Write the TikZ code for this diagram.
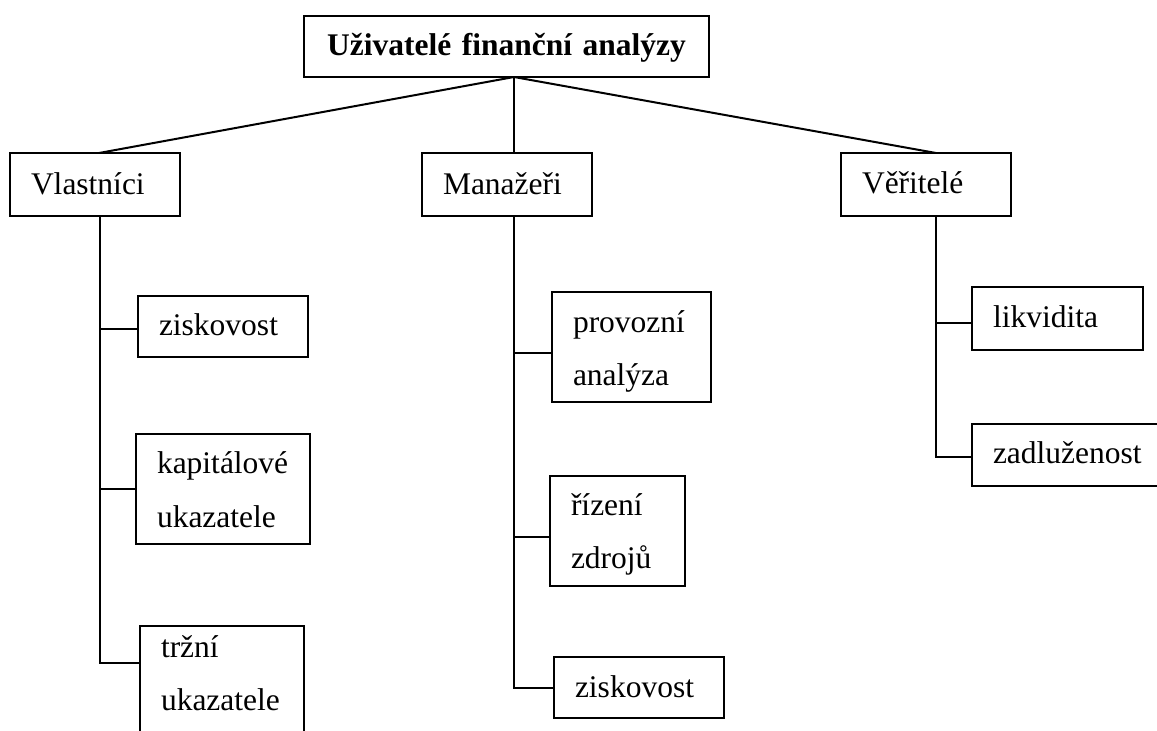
\documentclass[tikz,border=0pt]{standalone}
\usepackage{fontspec}
\setmainfont{Liberation Serif}
\hyphenpenalty=10000
\exhyphenpenalty=10000
\begin{document}
\begin{tikzpicture}[x=1pt,y=-1pt,
  box/.style={draw, line width=1.3pt, anchor=north west, align=left, inner xsep=21pt, inner ysep=0pt, outer sep=0pt,
    font=\fontsize{31.5}{53}\selectfont},
  conn/.style={line width=2pt}]
\useasboundingbox (0,0) rectangle (1157,731);
\clip (0,0) rectangle (1157,731);
% top
\node[box, align=center, font=\fontsize{31.5}{53}\selectfont\bfseries, text width=363pt, text height=39pt, text depth=22pt] (title) at (304,16) {Uživatelé finanční analýzy};
% level 1
\node[box, text width=128pt, text height=41pt, text depth=22pt] (vl) at (10,153) {Vlastníci};
\node[box, text width=128pt, text height=41pt, text depth=22pt] (ma) at (422,153) {Manažeři};
\node[box, text width=128pt, text height=40pt, text depth=23pt] (ve) at (841,153) {Věřitelé};
% Vlastnici children
\node[box, text width=128pt, text height=39pt, text depth=22pt] (z1) at (138,296) {ziskovost};
\node[box, font=\fontsize{31.5}{54}\selectfont, text width=132pt, text height=39pt, text depth=71pt] (kap) at (136,434) {kapitálové\\ukazatele};
\node[box, text width=122pt, text height=31pt, text depth=110pt] (trz) at (140,626) {tržní\\ukazatele};
% Manazeri children
\node[box, text width=117pt, text height=40pt, text depth=70pt] (prov) at (552,292) {provozní\\analýza};
\node[box, text width=93pt, text height=39pt, text depth=71pt] (riz) at (550,476) {řízení\\zdrojů};
\node[box, text width=128pt, text height=40pt, text depth=21pt] (z2) at (554,657) {ziskovost};
% Veritele children
\node[box, text width=129pt, text height=40pt, text depth=23pt] (likv) at (972,287) {likvidita};
\node[box, text width=160pt, text height=39pt, text depth=23pt] (zadl) at (972,424) {zadluženost};
% connectors top
\coordinate (apex) at ([xshift=7.5pt]title.south);
\draw[conn] (apex) -- ([xshift=4pt]vl.north);
\draw[conn] (apex) -- ([xshift=7pt]ma.north);
\draw[conn] (apex) -- ([xshift=10pt]ve.north);
% Vlastnici trunk
\coordinate (vlt) at ([xshift=5pt]vl.south);
\coordinate (b11) at ([yshift=-2.5pt]z1.west);
\coordinate (b12) at (kap.west);
\coordinate (b13) at ([yshift=-37pt]trz.north west);
\draw[conn] (vlt) -- (vlt |- b13) -- (b13);
\draw[conn] (vlt |- b11) -- (b11);
\draw[conn] (vlt |- b12) -- (b12);
% Manazeri trunk
\coordinate (mat) at ([xshift=7pt]ma.south);
\coordinate (b21) at ([yshift=-6pt]prov.west);
\coordinate (b22) at ([yshift=-6pt]riz.west);
\coordinate (b23) at (z2.west);
\draw[conn] (mat) -- (mat |- b23) -- (b23);
\draw[conn] (mat |- b21) -- (b21);
\draw[conn] (mat |- b22) -- (b22);
% Veritele trunk
\coordinate (vet) at ([xshift=10pt]ve.south);
\coordinate (b31) at ([yshift=-4.5pt]likv.west);
\coordinate (b32) at ([yshift=-2pt]zadl.west);
\draw[conn] (vet) -- (vet |- b32) -- (b32);
\draw[conn] (vet |- b31) -- (b31);
\end{tikzpicture}
\end{document}
